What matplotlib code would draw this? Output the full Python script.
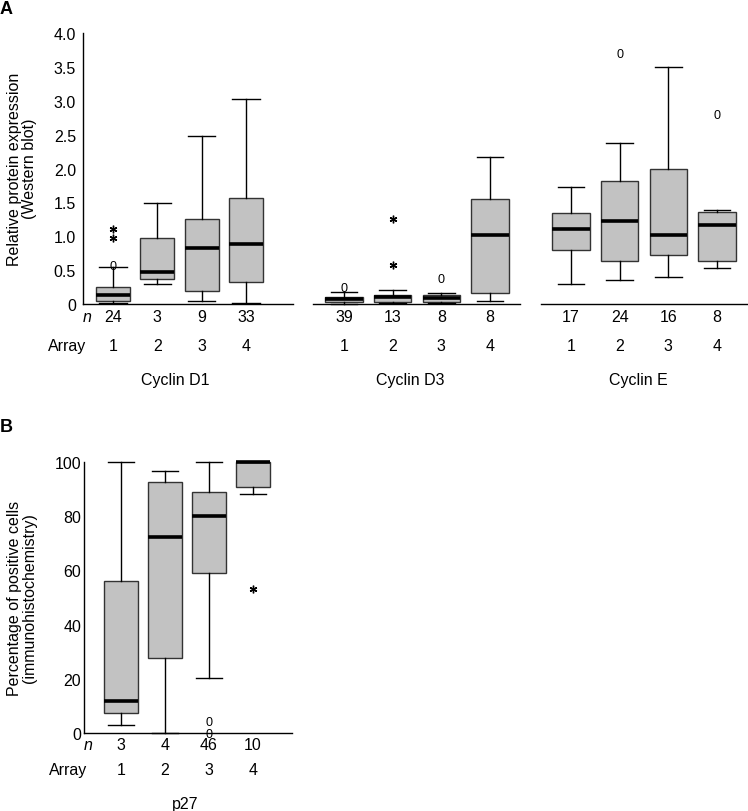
import matplotlib
matplotlib.use("Agg")
import matplotlib.pyplot as plt
from matplotlib import transforms

plt.rcParams['font.family'] = ['Liberation Sans', 'DejaVu Sans']
plt.rcParams['mathtext.fontset'] = 'custom'
plt.rcParams['mathtext.rm'] = 'Liberation Sans'

# ---------------- data ----------------
array_labels = ['1', '2', '3', '4']
positions = [1, 2, 3, 4]

d1_n = [24, 3, 9, 33]
d1_low = [0.01, 0.29, 0.05, 0.02]
d1_q1 = [0.05, 0.37, 0.19, 0.33]
d1_med = [0.13, 0.47, 0.82, 0.88]
d1_q3 = [0.25, 0.97, 1.26, 1.57]
d1_high = [0.54, 1.49, 2.48, 3.03]
d1_circle_pos = [1]
d1_circle_val = [0.57]
d1_star_pos = [1, 1]
d1_star_val = [1.11, 0.98]

d3_n = [39, 13, 8, 8]
d3_low = [0.0, 0.015, 0.015, 0.04]
d3_q1 = [0.035, 0.035, 0.035, 0.16]
d3_med = [0.07, 0.10, 0.09, 1.02]
d3_q3 = [0.10, 0.13, 0.14, 1.55]
d3_high = [0.18, 0.21, 0.16, 2.17]
d3_circle_pos = [1, 3]
d3_circle_val = [0.25, 0.39]
d3_star_pos = [2, 2]
d3_star_val = [1.26, 0.57]

e_n = [17, 24, 16, 8]
e_low = [0.30, 0.36, 0.40, 0.53]
e_q1 = [0.79, 0.63, 0.72, 0.63]
e_med = [1.10, 1.22, 1.02, 1.16]
e_q3 = [1.35, 1.81, 1.99, 1.36]
e_high = [1.73, 2.38, 3.50, 1.39]
e_circle_pos = [2, 4]
e_circle_val = [3.71, 2.80]
e_star_pos = []
e_star_val = []

p27_n = [3, 4, 46, 10]
p27_low = [3.1, 0.0, 20.4, 88.3]
p27_q1 = [7.5, 27.8, 59.2, 90.9]
p27_med = [11.8, 72.4, 79.9, 100.0]
p27_q3 = [56.0, 92.7, 89.0, 100.0]
p27_high = [100.0, 96.5, 100.0, 100.0]
p27_circle_pos = [3, 3]
p27_circle_val = [4.3, 0.0]
p27_star_pos = [4]
p27_star_val = [53.2]

panelA_ticks = [0, 0.5, 1.0, 1.5, 2.0, 2.5, 3.0, 3.5, 4.0]
panelA_ticklabels = ['0', '0.5', '1.0', '1.5', '2.0', '2.5', '3.0', '3.5', '4.0']
panelB_ticks = [0, 20, 40, 60, 80, 100]
panelB_ticklabels = ['0', '20', '40', '60', '80', '100']

FS = 11.5

# ---------------- figure ----------------
W, H = 748, 812
fig = plt.figure(figsize=(W / 100, H / 100), dpi=100)

def rect(x0, x1, ytop, ybot):
    return [x0 / W, 1 - ybot / H, (x1 - x0) / W, (ybot - ytop) / H]

BOX_FC = '#c2c2c2'
BOX_EC = '#333333'

def draw(ax, low, q1, med, q3, high, cpos, cval, spos, sval, xlim, ylim, capw):
    stats = []
    for i in range(len(med)):
        stats.append(dict(whislo=low[i], q1=q1[i], med=med[i], q3=q3[i],
                          whishi=high[i], fliers=[]))
    ax.bxp(stats, positions=positions, widths=0.77, patch_artist=True,
           showfliers=False, capwidths=capw,
           boxprops=dict(facecolor=BOX_FC, edgecolor=BOX_EC, linewidth=1.0),
           medianprops=dict(color='black', linewidth=2.6, solid_capstyle='butt'),
           whiskerprops=dict(color='black', linewidth=1.0),
           capprops=dict(color='black', linewidth=1.0))
    if cpos:
        ax.plot(cpos, cval, linestyle='none', marker=r'$\mathrm{0}$', markersize=6.5,
                color='black', markeredgewidth=0, clip_on=False, zorder=5)
    if spos:
        ax.plot(spos, sval, linestyle='none', marker=(6, 2, 0), markersize=5.5,
                color='black', markeredgewidth=1.0, clip_on=False, zorder=5)
    ax.set_xlim(*xlim)
    ax.set_ylim(*ylim)
    for s in ['top', 'right']:
        ax.spines[s].set_visible(False)
    ax.spines['bottom'].set_linewidth(1.0)
    ax.spines['left'].set_linewidth(1.0)
    ax.set_xticks([])

def bottom_labels(ax, nvals, y_n, y_arr):
    tr = transforms.blended_transform_factory(ax.transData, fig.transFigure)
    for p, nv, al in zip(positions, nvals, array_labels):
        ax.text(p, 1 - y_n / H, str(nv), transform=tr, ha='center', va='center', fontsize=FS)
        ax.text(p, 1 - y_arr / H, al, transform=tr, ha='center', va='center', fontsize=FS)

# Panel A - Cyclin D1
ax1 = fig.add_axes(rect(83, 293, 34, 305))
draw(ax1, d1_low, d1_q1, d1_med, d1_q3, d1_high, d1_circle_pos, d1_circle_val,
     d1_star_pos, d1_star_val, (0.323, 5.06), (0, 4.0), 0.61)
ax1.set_yticks(panelA_ticks)
ax1.set_yticklabels(panelA_ticklabels, fontsize=FS)
ax1.tick_params(axis='y', length=0, pad=5)
bottom_labels(ax1, d1_n, 318, 347)

# Cyclin D3
ax2 = fig.add_axes(rect(313, 520, 34, 305))
draw(ax2, d3_low, d3_q1, d3_med, d3_q3, d3_high, d3_circle_pos, d3_circle_val,
     d3_star_pos, d3_star_val, (0.363, 4.616), (0, 4.0), 0.55)
ax2.spines['left'].set_visible(False)
ax2.set_yticks([])
bottom_labels(ax2, d3_n, 318, 347)

# Cyclin E
ax3 = fig.add_axes(rect(541, 748, 34, 305))
draw(ax3, e_low, e_q1, e_med, e_q3, e_high, e_circle_pos, e_circle_val,
     e_star_pos, e_star_val, (0.384, 4.637), (0, 4.0), 0.55)
ax3.spines['left'].set_visible(False)
ax3.set_yticks([])
bottom_labels(ax3, e_n, 318, 347)

# Panel B - p27
ax4 = fig.add_axes(rect(84, 292, 463, 734))
draw(ax4, p27_low, p27_q1, p27_med, p27_q3, p27_high, p27_circle_pos, p27_circle_val,
     p27_star_pos, p27_star_val, (0.159, 4.886), (0, 100), 0.6)
ax4.set_yticks(panelB_ticks)
ax4.set_yticklabels(panelB_ticklabels, fontsize=FS)
ax4.tick_params(axis='y', length=0, pad=2)
bottom_labels(ax4, p27_n, 746, 771)

for a in (ax1, ax2, ax3, ax4):
    for art in a.lines + a.patches:
        art.set_clip_on(False)

# row headers and titles
def ftext(x, y, s, **kw):
    fig.text(x / W, 1 - y / H, s, **kw)

ftext(87, 318, 'n', ha='center', va='center', fontsize=FS, style='italic')
ftext(86, 347, 'Array', ha='right', va='center', fontsize=FS)
ftext(88, 746, 'n', ha='center', va='center', fontsize=FS, style='italic')
ftext(87, 771, 'Array', ha='right', va='center', fontsize=FS)

ftext(175, 381, 'Cyclin D1', ha='center', va='center', fontsize=FS)
ftext(410, 381, 'Cyclin D3', ha='center', va='center', fontsize=FS)
ftext(638, 381, 'Cyclin E', ha='center', va='center', fontsize=FS)
ftext(185, 805, 'p27', ha='center', va='center', fontsize=FS)

ftext(22, 169, 'Relative protein expression\n(Western blot)', ha='center', va='center',
      rotation=90, fontsize=FS, multialignment='center', linespacing=1.0)
ftext(22, 598, 'Percentage of positive cells\n(immunohistochemistry)', ha='center',
      va='center', rotation=90, fontsize=FS, multialignment='center', linespacing=1.0)

ftext(0, 9, 'A', ha='left', va='center', fontsize=13, fontweight='bold')
ftext(0, 428, 'B', ha='left', va='center', fontsize=13, fontweight='bold')

fig.savefig('out.png', dpi=100)
